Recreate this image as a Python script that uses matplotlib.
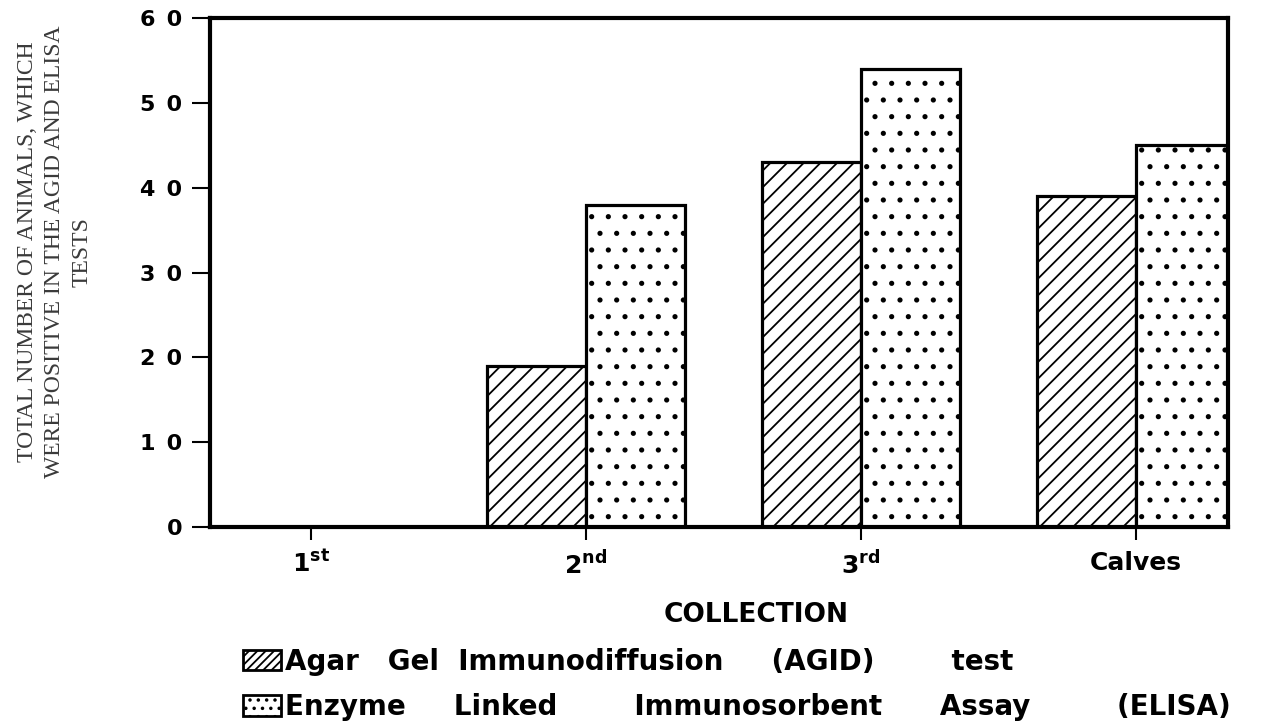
import numpy as np
import matplotlib.pyplot as plt
from matplotlib.patches import Patch

collections = [r'$\mathbf{1^{st}}$', r'$\mathbf{2^{nd}}$', r'$\mathbf{3^{rd}}$', 'Calves']
agid = [0, 19, 43, 39]
elisa = [0, 38, 54, 45]
yticks = [0, 10, 20, 30, 40, 50, 60]
ylabels = ['0', '1\u20020', '2\u20020', '3\u20020', '4\u20020', '5\u20020', '6\u20020']
legend_labels = ['Agar   Gel  Immunodiffusion     (AGID)        test',
                 'Enzyme     Linked        Immunosorbent      Assay         (ELISA)']

plt.rcParams['font.family'] = 'DejaVu Sans'
plt.rcParams['mathtext.fontset'] = 'dejavusans'
plt.rcParams['hatch.linewidth'] = 1.3

fig = plt.figure(figsize=(12.72, 7.24), dpi=100)
ax = fig.add_axes([0.165, 0.272, 0.8004, 0.703])

x = np.arange(len(collections))
w = 0.36
ax.bar(x - w, agid, width=w, align='edge', facecolor='white', edgecolor='black',
       hatch='//', linewidth=2.3)
ax.bar(x, elisa, width=w, align='edge', facecolor='white', edgecolor='black',
       hatch='.', linewidth=2.3)

ax.set_xlim(-0.367, 3.335)
ax.set_ylim(0, 60)
ax.set_xticks(x)
ax.set_xticklabels(collections, fontweight='bold', fontsize=18)
ax.set_yticks(yticks)
ax.set_yticklabels(ylabels, fontweight='bold', fontsize=16)
ax.tick_params(axis='y', length=13, width=1.5, pad=7)
ax.tick_params(axis='x', length=9, width=1.5, pad=8)

for s in ax.spines.values():
    s.set_linewidth(3)

fig.text(756 / 1272, 1 - 615 / 724, 'COLLECTION', fontweight='bold', fontsize=19,
         ha='center', va='center')
fig.text(55 / 1272, 1 - 252 / 724,
         'TOTAL NUMBER OF ANIMALS, WHICH\nWERE POSITIVE IN THE AGID AND ELISA\nTESTS',
         fontname='Liberation Serif', fontsize=17, color='#3a3a3a', rotation=90,
         ha='center', va='center', multialignment='center', linespacing=1.4)

fig.legend(handles=[Patch(facecolor='white', edgecolor='black', hatch='////', linewidth=2),
                    Patch(facecolor='white', edgecolor='black', hatch='..', linewidth=2)],
           labels=legend_labels,
           loc='lower left', bbox_to_anchor=(243 / 1272, 0.004), frameon=False,
           borderpad=0, borderaxespad=0,
           prop={'family': 'DejaVu Sans', 'weight': 'bold', 'size': 20},
           handlelength=1.37, handleheight=0.76, handletextpad=0.15, labelspacing=0.62)

fig.savefig('out.png', dpi=100)
